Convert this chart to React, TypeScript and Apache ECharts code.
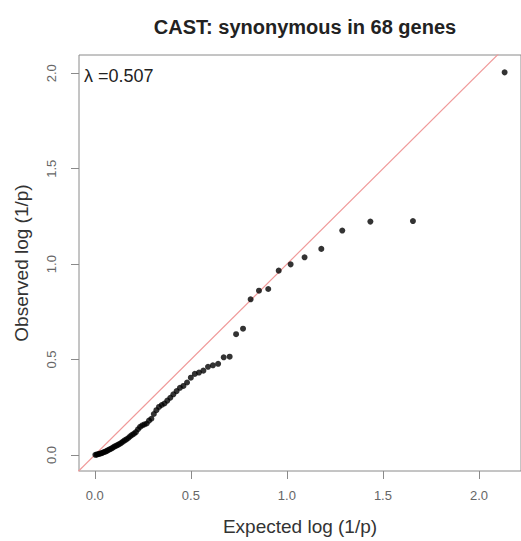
import React, { useEffect, useRef } from "react";
import * as echarts from "echarts";

const title = "CAST: synonymous in 68 genes";
const xTitle = "Expected log (1/p)";
const yTitle = "Observed log (1/p)";
const lambdaText = "λ =0.507";
const tickValues = [0, 0.5, 1, 1.5, 2];

// expected -log10 p (uniform quantiles for 68 genes)
const expected = [
  2.13354, 1.65642, 1.43457, 1.28844, 1.1793, 1.09215, 1.0196, 0.95745, 0.90309, 0.85479,
  0.81132, 0.77181, 0.7356, 0.70218, 0.67114, 0.64218, 0.61503, 0.58947, 0.56534, 0.54248,
  0.52076, 0.50007, 0.48033, 0.46144, 0.44334, 0.42597, 0.40926, 0.39318, 0.37767, 0.36269,
  0.34821, 0.3342, 0.32063, 0.30747, 0.29469, 0.28228, 0.27022, 0.25848, 0.24705, 0.23591,
  0.22505, 0.21446, 0.20412, 0.19402, 0.18415, 0.1745, 0.16506, 0.15582, 0.14677, 0.1379,
  0.12922, 0.1207, 0.11235, 0.10416, 0.09611, 0.08822, 0.08046, 0.07284, 0.06535, 0.05799,
  0.05075, 0.04363, 0.03663, 0.02974, 0.02295, 0.01627, 0.00969, 0.00321,
];

// observed -log10 p (sorted)
const observed = [
  2.005, 1.226, 1.223, 1.176, 1.08, 1.036, 0.999, 0.966, 0.87, 0.861,
  0.816, 0.662, 0.633, 0.515, 0.512, 0.478, 0.47, 0.462, 0.442, 0.432,
  0.425, 0.405, 0.38, 0.362, 0.352, 0.335, 0.318, 0.3, 0.285, 0.27,
  0.262, 0.252, 0.235, 0.215, 0.19, 0.18, 0.165, 0.16, 0.155, 0.147,
  0.135, 0.12, 0.112, 0.105, 0.098, 0.089, 0.082, 0.077, 0.07, 0.064,
  0.058, 0.053, 0.049, 0.045, 0.04, 0.035, 0.031, 0.027, 0.023, 0.019,
  0.016, 0.013, 0.01, 0.008, 0.006, 0.004, 0.002, 0.001,
];

const diagonal = [-0.2, 2.4];

export default function App() {
  const ref = useRef<HTMLDivElement>(null);
  useEffect(() => {
    if (!ref.current) return;
    const chart = echarts.init(ref.current, null, { renderer: "svg" });
    const font = "'Liberation Sans', Arial, Helvetica, sans-serif";
    const points = expected.map((e, i) => [e, observed[i]]);
    chart.setOption({
      animation: false,
      backgroundColor: "#ffffff",
      textStyle: { fontFamily: font },
      title: {
        text: title,
        left: 300,
        top: 12,
        textAlign: "center",
        textStyle: { fontFamily: font, fontSize: 20, fontWeight: "bold", color: "#222" },
      },
      grid: {
        left: 79,
        top: 55,
        width: 445,
        height: 416,
        show: true,
        borderColor: "#8a8a8a",
        borderWidth: 1,
        backgroundColor: "transparent",
      },
      xAxis: {
        type: "value",
        min: -0.0821,
        max: 2.2188,
        name: xTitle,
        nameLocation: "middle",
        nameGap: 46,
        nameTextStyle: { fontFamily: font, fontSize: 19, color: "#333" },
        axisLine: { show: false, onZero: false },
        splitLine: { show: false },
        axisTick: {
          show: true,
          length: 8,
          customValues: tickValues,
          lineStyle: { color: "#8a8a8a", width: 1 },
        },
        axisLabel: {
          customValues: tickValues,
          formatter: (v: number) => v.toFixed(1),
          margin: 18,
          fontSize: 13,
          color: "#666",
          fontFamily: font,
        },
      },
      yAxis: {
        type: "value",
        min: -0.0838,
        max: 2.096,
        name: yTitle,
        nameLocation: "middle",
        nameGap: 48,
        nameRotate: 90,
        nameTextStyle: { fontFamily: font, fontSize: 19, color: "#333" },
        axisLine: { show: false, onZero: false },
        splitLine: { show: false },
        axisTick: {
          show: true,
          length: 8,
          customValues: tickValues,
          lineStyle: { color: "#8a8a8a", width: 1 },
        },
        axisLabel: {
          customValues: tickValues,
          formatter: (v: number) => v.toFixed(1),
          rotate: 90,
          margin: 21,
          fontSize: 13,
          color: "#666",
          fontFamily: font,
        },
      },
      series: [
        {
          type: "line",
          data: diagonal.map((d) => [d, d]),
          symbol: "none",
          clip: true,
          lineStyle: { color: "#f09a9a", width: 1.2 },
          z: 1,
          silent: true,
        },
        {
          type: "scatter",
          data: points,
          symbol: "circle",
          symbolSize: 6,
          itemStyle: { color: "#000" },
          z: 2,
        },
      ],
      graphic: [
        {
          type: "text",
          left: 84,
          top: 67,
          style: {
            text: lambdaText,
            fontSize: 18,
            fontFamily: font,
            fill: "#222",
          },
        },
      ],
    });
    return () => chart.dispose();
  }, []);
  return (
    <div
      ref={ref}
      style={{ position: "fixed", left: 0, top: 0, width: 521, height: 541 }}
    />
  );
}
